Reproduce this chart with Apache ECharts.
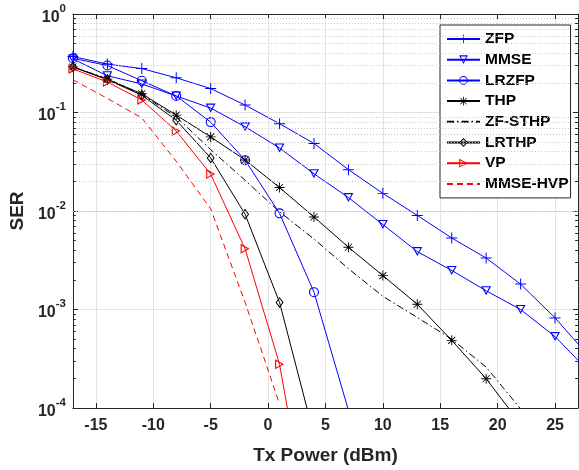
<!DOCTYPE html>
<html>
<head>
<meta charset="utf-8">
<script src="https://cdn.jsdelivr.net/npm/echarts@6/dist/echarts.min.js"></script>
<style>
html,body{margin:0;padding:0;background:#fff;}
#chart{width:579px;height:470px;}
</style>
</head>
<body>
<div id="chart"></div>
<script>
// ---- data ----
const txPower = [-17, -14, -11, -8, -5, -2, 1, 4, 7, 10, 13, 16, 19, 22, 25, 28];
const zfp    = [0.37, 0.31, 0.279, 0.225, 0.175, 0.119, 0.077, 0.0485, 0.0263, 0.0151, 0.00902, 0.00532, 0.00333, 0.00181, 0.000822, 0.00033];
const mmse   = [0.35, 0.236, 0.195, 0.147, 0.111, 0.0716, 0.0436, 0.0239, 0.0137, 0.00729, 0.00387, 0.00249, 0.00155, 0.00100, 0.000531, 0.000232];
const lrzfp  = [0.355, 0.30, 0.21, 0.147, 0.0799, 0.0328, 0.00946, 0.0015, 0.000095];
const thp    = [0.29, 0.218, 0.155, 0.094, 0.0565, 0.033, 0.0173, 0.0087, 0.00429, 0.00221, 0.00113, 0.000486, 0.000198, 0.000069];
const zfsthp = [0.29, 0.22, 0.152, 0.09, 0.042, 0.0205, 0.0098, 0.0052, 0.0026, 0.00136, 0.00083, 0.0005, 0.00026, 0.000098];
const lrthp  = [0.29, 0.215, 0.15, 0.0834, 0.0346, 0.00927, 0.00118, 0.000053];
const vp     = [0.277, 0.204, 0.134, 0.0648, 0.0237, 0.00413, 0.000278, 0.000003];
const hvp    = [0.215, 0.139, 0.088, 0.032, 0.0105, 0.00118, 0.00011];

const xTicks = [-15, -10, -5, 0, 5, 10, 15, 20, 25];
const decades = [0.0001, 0.001, 0.01, 0.1];
const minorMultipliers = [2, 3, 4, 5, 6, 7, 8, 9];

const seriesNames = ['ZFP', 'MMSE', 'LRZFP', 'THP', 'ZF-STHP', 'LRTHP', 'VP', 'MMSE-HVP'];

// ---- helpers ----
function pairs(ys) { return ys.map((y, i) => [txPower[i], y]); }
const minorValues = [];
decades.forEach(d => minorMultipliers.forEach(m => minorValues.push(d * m)));

const X_MIN = -17, X_MAX = 27;
const TXT = '#262626';

// hollow marker shapes (outline rings), thin bars for + and *
const plusPath = 'path://M9.1,0 L10.9,0 L10.9,20 L9.1,20 Z M0,9.1 L20,9.1 L20,10.9 L0,10.9 Z';
const starPath = 'path://M9.1,0 L10.9,0 L10.9,20 L9.1,20 Z M0,9.1 L20,9.1 L20,10.9 L0,10.9 Z ' +
  'M3.6,2.4 L17.6,16.4 L16.4,17.6 L2.4,3.6 Z M16.4,2.4 L17.6,3.6 L3.6,17.6 L2.4,16.4 Z';
const triDownPath = 'path://M0,0 L20,0 L10,18 Z M3.74,2.2 L10,13.47 L16.26,2.2 Z';
const triRightPath = 'path://M0,0 L18,10 L0,20 Z M2.2,3.74 L2.2,16.26 L13.47,10 Z';
const diamondPath = 'path://M10,0 L20,10 L10,20 L0,10 Z M10,3 L3,10 L10,17 L17,10 Z';
const circlePath = 'path://M10,0 A10,10 0 1,1 10,20 A10,10 0 1,1 10,0 Z M10,2.2 A7.8,7.8 0 1,0 10,17.8 A7.8,7.8 0 1,0 10,2.2 Z';

const BLUE = '#0000ff', BLACK = '#000000', RED = '#ff0000';

function lineSeries(name, ys, color, symbol, symbolSize, extra) {
  return Object.assign({
    name: name,
    type: 'line',
    data: pairs(ys),
    symbol: symbol,
    symbolSize: symbolSize,
    showSymbol: symbol !== 'none',
    color: color,
    lineStyle: { color: color, width: 1 },
    itemStyle: { color: color, borderWidth: 0 },
    emphasis: { disabled: true },
    clip: true,
    animation: false,
    z: 3
  }, extra || {});
}

// minor grid (dotted) and minor ticks drawn through the axes via markLine
const minorGridLines = minorValues.map(v => ({ yAxis: v }));
const minorTickSegs = [];
minorValues.forEach(v => {
  minorTickSegs.push([{ coord: [X_MIN, v] }, { coord: [X_MIN + 0.25, v] }]);
  minorTickSegs.push([{ coord: [X_MAX - 0.25, v] }, { coord: [X_MAX, v] }]);
});

const option = {
  animation: false,
  backgroundColor: '#ffffff',
  grid: { left: 70, top: 14, right: 1, bottom: 54, containLabel: false },
  xAxis: [{
    type: 'value',
    min: X_MIN, max: X_MAX,
    name: 'Tx Power (dBm)',
    nameLocation: 'middle',
    nameGap: 38,
    nameTextStyle: { fontSize: 19, fontWeight: 'bold', color: TXT, fontFamily: 'Liberation Sans' },
    axisLine: { show: true, onZero: false, lineStyle: { color: TXT, width: 1 } },
    axisTick: { show: true, inside: true, length: 5, customValues: xTicks, lineStyle: { color: TXT } },
    axisLabel: { show: true, customValues: xTicks, margin: 10, fontSize: 16, fontWeight: 'bold', color: TXT, fontFamily: 'Liberation Sans' },
    splitLine: { show: true, lineStyle: { color: '#e3e3e3', width: 1 } }
  }, {
    type: 'value',
    position: 'top',
    min: X_MIN, max: X_MAX,
    axisLine: { show: true, onZero: false, lineStyle: { color: TXT, width: 1 } },
    axisTick: { show: true, inside: true, length: 5, customValues: xTicks, lineStyle: { color: TXT } },
    axisLabel: { show: false },
    splitLine: { show: false }
  }],
  yAxis: [{
    type: 'log',
    logBase: 10,
    min: 0.0001, max: 1,
    interval: 1,
    name: 'SER',
    nameLocation: 'middle',
    nameGap: 44,
    nameTextStyle: { fontSize: 19, fontWeight: 'bold', color: TXT, fontFamily: 'Liberation Sans' },
    axisLine: { show: true, onZero: false, lineStyle: { color: TXT, width: 1 } },
    axisTick: { show: true, inside: true, length: 5, lineStyle: { color: TXT } },
    axisLabel: {
      show: true,
      margin: 7,
      formatter: function (v) {
        const e = Math.round(Math.log10(v));
        return '{b|10}{s|' + e + '}';
      },
      rich: {
        b: { fontSize: 16, fontWeight: 'bold', color: TXT, fontFamily: 'Liberation Sans', padding: [7, 0, 0, 0], verticalAlign: 'bottom' },
        s: { fontSize: 11.5, fontWeight: 'bold', color: TXT, fontFamily: 'Liberation Sans', verticalAlign: 'top' }
      }
    },
    splitLine: { show: true, lineStyle: { color: '#e3e3e3', width: 1 } }
  }, {
    type: 'log',
    logBase: 10,
    position: 'right',
    min: 0.0001, max: 1,
    interval: 1,
    axisLine: { show: true, onZero: false, lineStyle: { color: TXT, width: 1 } },
    axisTick: { show: true, inside: true, length: 5, lineStyle: { color: TXT } },
    axisLabel: { show: false },
    splitLine: { show: false }
  }],
  legend: {
    data: seriesNames.map(n => (n === 'ZF-STHP' || n === 'MMSE-HVP') ? { name: n, itemStyle: { opacity: 0 } } : { name: n }),
    orient: 'vertical',
    left: 440,
    top: 25,
    itemWidth: 33,
    itemHeight: 11,
    itemGap: 4.7,
    padding: [6, 2, 6, 6],
    borderColor: TXT,
    borderWidth: 1,
    backgroundColor: '#ffffff',
    selectedMode: false,
    itemStyle: { borderWidth: 0 },
    textStyle: { fontSize: 15.5, fontWeight: 'bold', color: '#000', fontFamily: 'Liberation Sans' }
  },
  series: [
    {
      name: '_grid',
      type: 'line',
      data: [],
      silent: true,
      z: 1,
      markLine: {
        silent: true,
        symbol: 'none',
        label: { show: false },
        animation: false,
        lineStyle: { color: '#c8c8c8', type: [1, 2], width: 1 },
        data: minorGridLines
      }
    },
    {
      name: '_ticks',
      type: 'line',
      data: [],
      silent: true,
      z: 2,
      markLine: {
        silent: true,
        symbol: 'none',
        label: { show: false },
        animation: false,
        lineStyle: { color: TXT, type: 'solid', width: 1 },
        data: minorTickSegs
      }
    },
    lineSeries('ZFP', zfp, BLUE, plusPath, 11),
    lineSeries('MMSE', mmse, BLUE, triDownPath, [10, 9]),
    lineSeries('LRZFP', lrzfp, BLUE, circlePath, 10),
    lineSeries('THP', thp, BLACK, starPath, 10),
    lineSeries('ZF-STHP', zfsthp, BLACK, 'none', 0, { lineStyle: { color: BLACK, width: 1, type: [7, 3, 1.5, 3] } }),
    lineSeries('LRTHP', lrthp, BLACK, diamondPath, [8, 11]),
    lineSeries('VP', vp, RED, triRightPath, [9, 10]),
    lineSeries('MMSE-HVP', hvp, RED, 'none', 0, { lineStyle: { color: RED, width: 1, type: [6, 4] } })
  ]
};

const chart = echarts.init(document.getElementById('chart'), null, { renderer: 'canvas', width: 579, height: 470 });
chart.setOption(option);
</script>
</body>
</html>
